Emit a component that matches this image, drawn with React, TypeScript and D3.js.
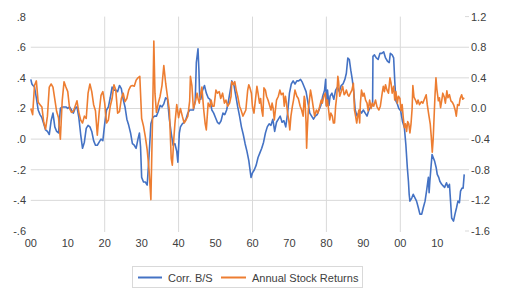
import React from 'react';
import * as d3 from 'd3';

// Corr. B/S (left axis), [year, value]
const corrBS: [number, number][] = [
  [1900.0, 0.39], [1900.3, 0.36], [1900.6, 0.35], [1901.0, 0.34], [1901.5, 0.27], [1902.0, 0.19], [1902.5, 0.16],
  [1903.0, 0.14], [1903.5, 0.1], [1904.0, 0.06], [1904.5, 0.05], [1905.0, 0.03], [1905.5, 0.12], [1906.0, 0.17],
  [1906.5, 0.08], [1907.0, 0.05], [1907.5, 0.04], [1908.0, 0.2], [1908.5, 0.21], [1909.0, 0.21], [1909.5, 0.21],
  [1910.0, 0.2], [1910.5, 0.21], [1911.0, 0.19], [1911.5, 0.17], [1912.0, 0.2], [1912.5, 0.21], [1913.0, 0.14],
  [1913.5, 0.03], [1914.0, -0.06], [1914.5, -0.02], [1915.0, 0.07], [1915.5, 0.09], [1916.0, 0.08], [1916.5, 0.05],
  [1917.0, -0.01], [1917.5, -0.04], [1918.0, -0.04], [1918.5, -0.02], [1919.0, 0.0], [1919.5, -0.01],
  [1920.0, 0.1], [1920.5, 0.19], [1921.0, 0.21], [1921.5, 0.27], [1922.0, 0.34], [1922.5, 0.32], [1923.0, 0.32],
  [1923.5, 0.31], [1924.0, 0.35], [1924.5, 0.33], [1925.0, 0.26], [1925.5, 0.21], [1926.0, 0.13], [1926.5, 0.09],
  [1927.0, 0.04], [1927.5, -0.03], [1928.0, -0.04], [1928.5, -0.06], [1929.0, 0.0], [1929.4, 0.04], [1929.7, -0.05],
  [1930.0, -0.25], [1930.5, -0.28], [1931.0, -0.28], [1931.5, -0.3], [1932.0, -0.11], [1932.5, 0.1], [1933.0, 0.14],
  [1933.5, 0.15], [1934.0, 0.15], [1934.5, 0.18], [1935.0, 0.22], [1935.5, 0.21], [1936.0, 0.23], [1936.5, 0.27],
  [1937.0, 0.26], [1937.5, 0.13], [1938.0, 0.04], [1938.5, -0.04], [1939.0, -0.03], [1939.5, -0.08], [1939.8, -0.15],
  [1940.2, 0.04], [1940.5, 0.08], [1941.0, 0.1], [1941.5, 0.11], [1942.0, 0.13], [1942.5, 0.17], [1943.0, 0.19],
  [1943.5, 0.19], [1944.0, 0.19], [1944.5, 0.25], [1944.8, 0.5], [1945.25, 0.59], [1945.5, 0.45], [1945.7, 0.28],
  [1946.0, 0.26], [1946.5, 0.32], [1947.0, 0.35], [1947.5, 0.3], [1948.0, 0.27], [1948.5, 0.26], [1949.0, 0.19],
  [1949.5, 0.17], [1950.0, 0.14], [1950.5, 0.11], [1951.0, 0.1], [1951.5, 0.12], [1952.0, 0.17], [1952.5, 0.16],
  [1953.0, 0.19], [1953.5, 0.25], [1954.0, 0.32], [1954.4, 0.38], [1955.0, 0.35], [1955.5, 0.28], [1956.0, 0.21],
  [1956.5, 0.15], [1957.0, 0.08], [1957.5, 0.03], [1958.0, -0.03], [1958.5, -0.08], [1959.0, -0.14], [1959.6, -0.25],
  [1960.0, -0.22], [1960.5, -0.2], [1961.0, -0.17], [1961.5, -0.12], [1962.0, -0.09], [1962.5, -0.06], [1963.0, -0.02],
  [1963.5, 0.04], [1964.0, 0.08], [1964.5, 0.1], [1965.0, 0.09], [1965.5, 0.13], [1966.0, 0.05], [1966.5, 0.11],
  [1967.0, 0.13], [1967.5, 0.15], [1968.0, 0.11], [1968.5, 0.12], [1969.0, 0.08], [1969.5, 0.17], [1970.0, 0.3],
  [1970.5, 0.36], [1971.0, 0.38], [1971.5, 0.36], [1972.0, 0.38], [1972.5, 0.38], [1973.0, 0.39], [1973.5, 0.37],
  [1974.0, 0.34], [1974.5, 0.31], [1975.0, 0.24], [1975.5, 0.17], [1976.0, 0.15], [1976.5, 0.13], [1977.0, 0.15],
  [1977.5, 0.16], [1978.0, 0.19], [1978.5, 0.22], [1979.0, 0.28], [1979.5, 0.32], [1979.8, 0.39],
  [1980.0, 0.22], [1980.3, 0.32], [1980.7, 0.22], [1981.0, 0.28], [1981.5, 0.3], [1982.0, 0.26], [1982.5, 0.32],
  [1983.0, 0.34], [1983.5, 0.31], [1984.0, 0.35], [1984.5, 0.36], [1985.0, 0.39], [1985.4, 0.43], [1985.8, 0.53],
  [1986.2, 0.52], [1986.6, 0.45], [1987.0, 0.39], [1987.4, 0.31], [1987.8, 0.19], [1988.3, 0.15], [1988.7, 0.17],
  [1989.0, 0.19], [1989.5, 0.17], [1990.0, 0.19], [1990.5, 0.17], [1991.0, 0.15], [1991.5, 0.19], [1992.0, 0.21],
  [1992.5, 0.22], [1992.6, 0.54], [1993.0, 0.55], [1993.5, 0.53], [1994.0, 0.52], [1994.5, 0.56], [1995.0, 0.56],
  [1995.5, 0.57], [1996.0, 0.53], [1996.5, 0.51], [1997.0, 0.5], [1997.3, 0.56], [1997.8, 0.55], [1998.2, 0.53],
  [1998.5, 0.38], [1998.8, 0.25], [1999.2, 0.23], [1999.6, 0.2], [2000.1, 0.185], [2000.6, 0.115], [2001.1, 0.075],
  [2001.5, -0.035], [2001.9, -0.185], [2002.2, -0.275], [2002.4, -0.36], [2002.6, -0.405], [2003.1, -0.385],
  [2003.5, -0.36], [2004.0, -0.385], [2004.4, -0.405], [2004.9, -0.45], [2005.3, -0.49], [2005.8, -0.49],
  [2006.2, -0.45], [2006.7, -0.405], [2007.1, -0.34], [2007.6, -0.25], [2007.8, -0.35], [2008.0, -0.275],
  [2008.3, -0.185], [2008.6, -0.1], [2008.9, -0.12], [2009.3, -0.145], [2009.7, -0.185], [2010.0, -0.23],
  [2010.4, -0.25], [2010.7, -0.275], [2011.2, -0.295], [2011.6, -0.305], [2012.0, -0.315], [2012.5, -0.285],
  [2012.9, -0.315], [2013.3, -0.295], [2013.6, -0.405], [2013.9, -0.515], [2014.4, -0.535], [2014.8, -0.49],
  [2015.2, -0.45], [2015.6, -0.405], [2016.0, -0.415], [2016.3, -0.34], [2016.7, -0.32], [2017.0, -0.32],
  [2017.3, -0.23],
];

// Annual Stock Returns (right axis), [year, value]
const stockReturns: [number, number][] = [
  [1900.0, 0.0], [1900.5, -0.08], [1901.0, 0.3], [1901.5, 0.36], [1902.0, 0.08], [1902.5, 0.05], [1903.0, 0.02],
  [1903.5, -0.18], [1904.0, -0.27], [1904.5, -0.1], [1905.0, 0.28], [1905.5, 0.32], [1906.0, 0.28], [1906.5, 0.12],
  [1907.0, -0.04], [1907.5, -0.12], [1908.0, -0.4], [1908.5, 0.1], [1909.0, 0.35], [1909.5, 0.28], [1910.0, 0.22],
  [1910.5, 0.0], [1911.0, -0.05], [1911.5, -0.04], [1912.0, 0.03], [1912.5, 0.1], [1913.0, -0.05], [1913.5, -0.15],
  [1914.0, -0.19], [1914.5, -0.1], [1915.0, -0.13], [1915.5, 0.2], [1916.0, 0.32], [1916.5, 0.22], [1917.0, 0.05],
  [1917.5, -0.03], [1918.0, -0.35], [1918.5, -0.05], [1919.0, 0.17], [1919.5, 0.22],
  [1920.0, 0.07], [1920.5, -0.19], [1921.0, -0.15], [1921.5, 0.03], [1922.0, 0.13], [1922.5, 0.31], [1923.0, 0.24],
  [1923.5, -0.06], [1924.0, -0.04], [1924.5, 0.13], [1925.0, 0.2], [1925.5, 0.09], [1926.0, 0.13], [1926.5, 0.24],
  [1927.0, 0.29], [1927.5, 0.3], [1928.0, 0.29], [1928.5, 0.37], [1929.0, 0.4], [1929.5, 0.42], [1930.0, -0.13],
  [1930.5, -0.23], [1931.0, -0.37], [1931.5, -0.54], [1932.0, -0.8], [1932.5, -1.19], [1933.0, 0.0], [1933.3, 0.88],
  [1933.6, 0.2], [1934.0, -0.05], [1934.5, 0.07], [1935.0, 0.16], [1935.5, 0.3], [1936.0, 0.56], [1936.5, 0.33],
  [1937.0, 0.15], [1937.5, -0.02], [1938.0, -0.65], [1938.3, -0.74], [1938.7, -0.4], [1939.0, -0.2], [1939.5, 0.05],
  [1940.0, -0.12], [1940.5, -0.0], [1941.0, -0.1], [1941.5, -0.19], [1942.0, -0.15], [1942.5, -0.1], [1943.0, 0.1],
  [1943.2, 0.42], [1943.6, 0.3], [1944.0, 0.0], [1944.5, 0.08], [1945.0, 0.2], [1945.3, 0.12], [1945.6, 0.07],
  [1946.0, 0.2], [1946.3, 0.28], [1946.8, -0.02], [1947.2, -0.2], [1947.5, -0.28], [1948.0, 0.07], [1948.5, 0.02],
  [1948.8, 0.11], [1949.2, 0.03], [1949.6, 0.03], [1950.1, 0.24], [1950.5, 0.2], [1951.0, 0.22], [1951.4, 0.13],
  [1951.9, 0.2], [1952.4, 0.07], [1952.8, 0.11], [1953.3, 0.03], [1953.8, 0.07], [1954.2, 0.16], [1954.4, 0.35],
  [1954.8, 0.31], [1955.2, 0.35], [1955.6, 0.24], [1956.0, 0.16], [1956.5, 0.03], [1956.9, -0.02], [1957.4, -0.1],
  [1957.8, -0.06], [1958.2, -0.02], [1958.7, 0.24], [1959.0, 0.31], [1959.3, 0.27], [1959.7, 0.2],
  [1960.0, 0.02], [1960.4, -0.06], [1960.9, 0.16], [1961.2, 0.29], [1961.5, 0.2], [1961.9, 0.07], [1962.2, 0.13],
  [1962.5, -0.02], [1962.8, -0.1], [1963.1, 0.27], [1963.5, 0.24], [1963.8, 0.16], [1964.2, 0.11], [1964.7, 0.03],
  [1965.0, -0.02], [1965.3, 0.07], [1965.6, 0.0], [1965.9, -0.15], [1966.2, -0.02], [1966.5, 0.11], [1967.0, 0.16],
  [1967.4, 0.24], [1967.8, 0.18], [1968.3, 0.2], [1968.6, 0.03], [1968.9, 0.16], [1969.2, 0.07], [1969.5, -0.06],
  [1969.8, -0.15], [1970.1, -0.28], [1970.4, -0.1], [1970.8, 0.03], [1971.1, 0.11], [1971.5, 0.24], [1972.0, 0.16],
  [1972.4, 0.13], [1972.9, 0.03], [1973.3, -0.02], [1973.7, -0.1], [1974.0, 0.16], [1974.2, 0.11], [1974.5, -0.19],
  [1974.65, -0.52], [1974.8, -0.32], [1975.1, -0.02], [1975.4, 0.11], [1975.7, 0.24], [1976.0, 0.16], [1976.4, 0.03],
  [1976.8, -0.1], [1977.3, -0.02], [1977.7, -0.06], [1978.2, 0.03], [1978.6, 0.11], [1978.9, 0.07], [1979.3, 0.16],
  [1979.7, 0.2],
  [1980.0, 0.03], [1980.3, 0.11], [1980.6, -0.02], [1980.9, -0.15], [1981.2, -0.06], [1981.6, -0.1], [1981.9, -0.19],
  [1982.2, -0.19], [1982.5, 0.03], [1982.8, 0.16], [1983.1, 0.42], [1983.3, 0.35], [1983.6, 0.16], [1984.0, 0.22],
  [1984.4, 0.29], [1984.8, 0.18], [1985.1, 0.2], [1985.4, 0.24], [1985.8, 0.18], [1986.1, 0.16], [1986.5, 0.2],
  [1986.9, 0.24], [1987.3, 0.33], [1987.6, -0.02], [1987.9, -0.1], [1988.2, -0.19], [1988.5, -0.1], [1988.8, -0.02],
  [1989.0, -0.19], [1989.2, 0.07], [1989.5, 0.24], [1989.9, 0.16], [1990.2, 0.2], [1990.6, 0.11], [1991.0, 0.07],
  [1991.3, -0.03], [1991.7, 0.11], [1992.1, 0.0], [1992.4, 0.07], [1992.8, 0.03], [1993.3, 0.11], [1993.7, 0.02],
  [1994.2, -0.02], [1994.6, 0.03], [1995.1, 0.2], [1995.4, 0.29], [1995.7, 0.22], [1996.0, 0.31], [1996.4, 0.24],
  [1996.8, 0.2], [1997.2, 0.4], [1997.5, 0.33], [1997.8, 0.2], [1998.2, 0.29], [1998.5, 0.11], [1998.8, 0.22],
  [1999.2, 0.07], [1999.5, 0.16], [1999.9, 0.13],
  [2000.2, -0.03], [2000.5, 0.05], [2000.8, -0.12], [2001.1, -0.25], [2001.4, -0.2], [2001.7, -0.3], [2002.0, -0.17],
  [2002.3, -0.2], [2002.6, -0.32], [2002.9, -0.2], [2003.2, 0.0], [2003.4, 0.3], [2003.7, 0.15], [2004.1, 0.11],
  [2004.5, 0.06], [2004.8, 0.11], [2005.2, 0.05], [2005.7, 0.09], [2006.1, 0.07], [2006.6, 0.13], [2007.0, 0.18],
  [2007.3, 0.05], [2007.7, -0.08], [2008.1, -0.2], [2008.4, -0.38], [2008.65, -0.57], [2008.9, -0.4], [2009.2, -0.05],
  [2009.4, 0.18], [2009.65, 0.4], [2009.9, 0.25], [2010.3, 0.1], [2010.6, 0.14], [2010.9, 0.01], [2011.2, 0.1],
  [2011.5, 0.2], [2011.9, 0.15], [2012.2, 0.07], [2012.6, 0.23], [2012.9, 0.14], [2013.3, 0.18], [2013.7, 0.1],
  [2014.1, 0.08], [2014.5, 0.04], [2014.9, -0.03], [2015.15, -0.1], [2015.5, 0.05], [2015.9, 0.04], [2016.2, 0.13],
  [2016.6, 0.18], [2016.9, 0.12], [2017.3, 0.14],
];

const leftTicks = [0.8, 0.6, 0.4, 0.2, 0.0, -0.2, -0.4, -0.6];
const leftTickLabels = ['.8', '.6', '.4', '.2', '.0', '-.2', '-.4', '-.6'];
const rightTicks = [1.2, 0.8, 0.4, 0.0, -0.4, -0.8, -1.2, -1.6];
const rightTickLabels = ['1.2', '0.8', '0.4', '0.0', '-0.4', '-0.8', '-1.2', '-1.6'];
const gridValues = [0.6, 0.4, 0.2, 0.0, -0.2, -0.4];
const yearTicks = [1900, 1910, 1920, 1930, 1940, 1950, 1960, 1970, 1980, 1990, 2000, 2010];
const yearTickLabels = ['00', '10', '20', '30', '40', '50', '60', '70', '80', '90', '00', '10'];
const yearGrid = [1920, 1940, 1960, 1980, 2000];
const seriesNames = ['Corr. B/S', 'Annual Stock Returns'];

const BLUE = '#4472C4';
const ORANGE = '#ED7D31';
const GRID = '#d9d9d9';
const TEXT = '#404040';
const FONT = '"Liberation Sans", Arial, sans-serif';

export default function App() {
  const width = 506;
  const height = 299;
  const plotLeft = 30.8;
  const plotRight = 465;
  const plotTop = 16.6;
  const plotBottom = 231;

  const x = d3.scaleLinear().domain([1900, 2020]).range([plotLeft, plotLeft + 120 * 3.695]);
  const yLeft = d3.scaleLinear().domain([-0.6, 0.8]).range([plotBottom, plotTop]);
  const yRight = d3.scaleLinear().domain([-1.6, 1.2]).range([plotBottom, plotTop]);

  const blueLine = d3.line<[number, number]>().x(d => x(d[0])).y(d => yLeft(d[1]));
  const orangeLine = d3.line<[number, number]>().x(d => x(d[0])).y(d => yRight(d[1]));

  return (
    <svg
      width={width}
      height={height}
      style={{ position: 'absolute', left: 0, top: 0, background: '#fff' }}
      fontFamily={FONT}
    >
      {/* gridlines */}
      {gridValues.map(v => (
        <line key={'h' + v} x1={plotLeft} x2={plotRight} y1={yLeft(v)} y2={yLeft(v)} stroke={GRID} strokeWidth={1} />
      ))}
      {yearGrid.map(yr => (
        <line key={'v' + yr} x1={x(yr)} x2={x(yr)} y1={plotTop} y2={plotBottom + 1} stroke={GRID} strokeWidth={1} />
      ))}

      {/* right axis tick marks */}
      {rightTicks.map(v => (
        <line key={'rt' + v} x1={plotRight} x2={plotRight + 4} y1={yRight(v)} y2={yRight(v)} stroke={GRID} strokeWidth={1} />
      ))}

      {/* series */}
      <path d={blueLine(corrBS) || ''} fill="none" stroke={BLUE} strokeWidth={1.6} strokeLinejoin="round" />
      <path d={orangeLine(stockReturns) || ''} fill="none" stroke={ORANGE} strokeWidth={1.6} strokeLinejoin="round" />

      {/* left labels */}
      {leftTicks.map((v, i) => (
        <text key={'ll' + v} x={26} y={yLeft(v)} textAnchor="end" dominantBaseline="central" fontSize={11} fill={TEXT}>
          {leftTickLabels[i]}
        </text>
      ))}

      {/* right labels */}
      {rightTicks.map((v, i) => (
        <text key={'rl' + v} x={471} y={yRight(v)} textAnchor="start" dominantBaseline="central" fontSize={11} fill={TEXT}>
          {rightTickLabels[i]}
        </text>
      ))}

      {/* x labels */}
      {yearTicks.map((yr, i) => (
        <text key={'xl' + yr} x={x(yr)} y={242.5} textAnchor="middle" dominantBaseline="central" fontSize={11} fill={TEXT}>
          {yearTickLabels[i]}
        </text>
      ))}

      {/* legend */}
      <rect x={132.5} y={266.5} width={230} height={21} fill="none" stroke={GRID} strokeWidth={1} />
      <line x1={138} x2={162} y1={277.5} y2={277.5} stroke={BLUE} strokeWidth={2} />
      <text x={168} y={277.5} dominantBaseline="central" fontSize={11} fill={TEXT}>{seriesNames[0]}</text>
      <line x1={221} x2={246} y1={277.5} y2={277.5} stroke={ORANGE} strokeWidth={2} />
      <text x={252} y={277.5} dominantBaseline="central" fontSize={11} fill={TEXT}>{seriesNames[1]}</text>
    </svg>
  );
}
